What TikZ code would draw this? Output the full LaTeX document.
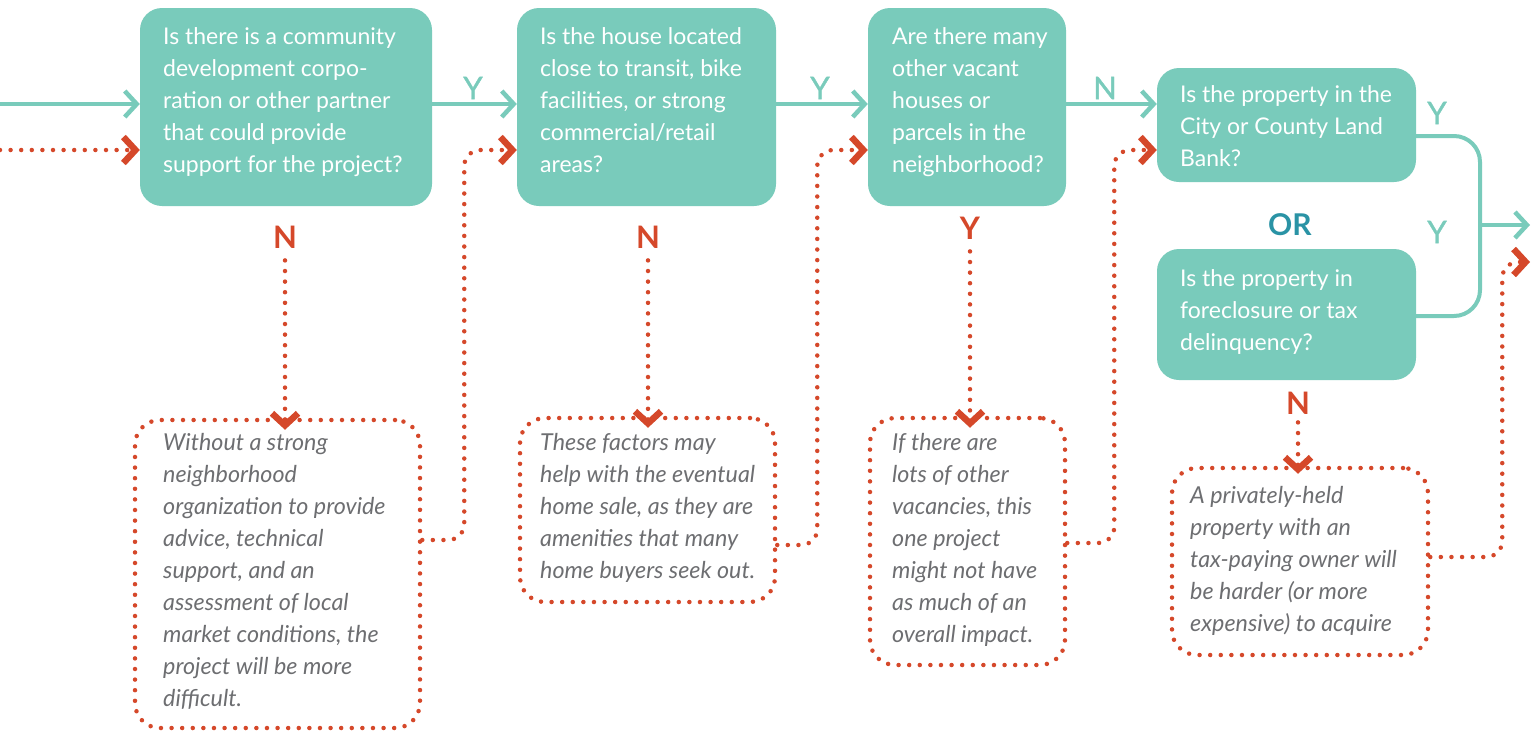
\documentclass[tikz,border=0pt]{standalone}
\usepackage{fontspec}
\setmainfont{Lato}
\usetikzlibrary{arrows.meta}
\definecolor{teal1}{HTML}{79CBBB}
\definecolor{red1}{HTML}{D5482A}
\definecolor{gray1}{HTML}{6D6E71}
\definecolor{ordark}{HTML}{2A93A5}
\begin{document}
\begin{tikzpicture}[x=1pt,y=-1pt,
  qbox/.style={fill=teal1, rounded corners=22pt, inner sep=0pt},
  qtext/.style={text=white, font=\fontsize{23}{32}\selectfont, align=left, anchor=north west, inner sep=0pt},
  dbox/.style={draw=red1, line width=4.5pt, dash pattern=on 0pt off 10.6pt, line cap=round, rounded corners=25pt, inner sep=0pt},
  dtext/.style={text=gray1, font=\fontsize{23.3}{32}\selectfont\itshape, align=left, anchor=north west, inner sep=0pt},
  tline/.style={draw=teal1, line width=4pt},
  tarr/.style={tline, -{Straight Barb[length=12pt,width=26pt,line width=4.5pt]}},
  rdot/.style={draw=red1, line width=4.5pt, dash pattern=on 0pt off 10.6pt, line cap=round},
  rarr/.style={rdot, -{Straight Barb[length=12pt,width=26pt,line width=6.5pt]}},
  tlab/.style={text=teal1, font=\fontsize{31}{31}\selectfont\addfontfeature{FakeBold=1.2}, inner sep=0pt},
  rlab/.style={text=red1, font=\fontsize{31}{31}\selectfont\bfseries, inner sep=0pt}
]
\useasboundingbox (0,0) rectangle (1537,732);

% question boxes
\node[qbox, minimum width=292pt, minimum height=198pt] (b1) at (286,107) {};
\node[qbox, minimum width=259pt, minimum height=198pt] (b2) at (646.5,107) {};
\node[qbox, minimum width=198pt, minimum height=198pt] (b3) at (967,107) {};
\node[qbox, minimum width=259pt, minimum height=114pt] (b4) at (1286.5,125) {};
\node[qbox, minimum width=259pt, minimum height=131pt] (b5) at (1286.5,314.5) {};

\node[qtext] (t1) at (163,27) {Is there is a community\\development corpo-\\ration or other partner\\that could provide\\support for the project?};
\node[qtext] (t2) at (540,27) {Is the house located\\close to transit, bike\\facilities, or strong\\commercial/retail\\areas?};
\node[qtext] (t3) at (892,27) {Are there many\\other vacant\\houses or\\parcels in the\\neighborhood?};
\node[qtext] (t4) at (1180,85) {Is the property in the\\City or County Land\\Bank?};
\node[qtext] (t5) at (1180,269) {Is the property in\\foreclosure or tax\\delinquency?};

% dotted note boxes
\node[dbox, minimum width=285pt, minimum height=308pt] (d1) at (277.5,574) {};
\node[dbox, minimum width=255pt, minimum height=184pt] (d2) at (647.5,510) {};
\node[dbox, minimum width=195pt, minimum height=247pt] (d3) at (967.5,541.5) {};
\node[dbox, minimum width=256pt, minimum height=187pt] (d4) at (1300,561.5) {};

\node[dtext] (e1) at (163,433) {Without a strong\\neighborhood\\organization to provide\\advice, technical\\support, and an\\assessment of local\\market conditions, the\\project will be more\\difficult.};
\node[dtext] (e2) at (540,433) {These factors may\\help with the eventual\\home sale, as they are\\amenities that many\\home buyers seek out.};
\node[dtext] (e3) at (892,433) {If there are\\lots of other\\vacancies, this\\one project\\might not have\\as much of an\\overall impact.};
\node[dtext] (e4) at (1190,486) {A privately-held\\property with an\\tax-paying owner will\\be harder (or more\\expensive) to acquire};

% labels
\node[tlab] (y1) at (473,88) {Y};
\node[tlab] (y2) at (820,88) {Y};
\node[tlab] (n3) at (1105,88) {N};
\node[tlab] (y4) at (1437,113) {Y};
\node[tlab] (y5) at (1437,232) {Y};
\node[text=ordark, font=\fontsize{30}{30}\selectfont\bfseries, inner sep=0pt] (or) at (1290,225) {OR};
\node[rlab] (rn1) at (285,237) {N};
\node[rlab] (rn2) at (648,237) {N};
\node[rlab] (ry3) at (970,228) {Y};
\node[rlab] (rn5) at (1298,403) {N};

% coordinates for free ends
\coordinate (in1) at (0,104);
\coordinate (in2) at (0,150);
\coordinate (jx) at (1480,225);
\coordinate (out1) at (1530,225);
\coordinate (out2) at (1530,262);

% solid yes-path
\draw[tarr] (in1) -- (in1 -| b1.west);
\draw[tarr] ([yshift=3pt]b1.east) -- ([yshift=3pt]b2.west);
\draw[tarr] ([yshift=3pt]b2.east) -- ([yshift=3pt]b3.west);
\draw[tarr] ([yshift=3pt]b3.east) -- ([yshift=3pt]b3.east -| b4.west);
\draw[tline, rounded corners=26pt] ([yshift=-11pt]b4.east) -| (jx) |- ([yshift=-1.5pt]b5.east);
\draw[tarr] (jx) -- (out1);

% dotted paths
\draw[rarr] (in2) -- (in2 -| b1.west);
\draw[rarr] ([yshift=-12pt]rn1.south) -- ([yshift=-12pt]rn1.south |- d1.north);
\draw[rarr] ([yshift=-12pt]rn2.south) -- ([yshift=-12pt]rn2.south |- d2.north);
\draw[rarr] ([yshift=-12pt]ry3.south) -- ([yshift=-12pt]ry3.south |- d3.north);
\draw[rarr] ([yshift=-8pt]rn5.south) -- ([yshift=-8pt]rn5.south |- d4.north);
\draw[rarr, rounded corners=16pt] ([yshift=34pt]d1.east) -- ++(42,0) |- ([yshift=-43pt]b2.west);
\draw[rarr, rounded corners=16pt] ([yshift=-35pt]d2.east) -- ++(40,0) |- ([yshift=-43pt]b3.west);
\draw[rarr, rounded corners=16pt] ([yshift=-1.5pt]d3.east) -- ++(47,0) |- ([yshift=-25pt]b4.west);
\draw[rarr, rounded corners=16pt] ([yshift=4.5pt]d4.east) -- ++(72,0) |- (out2);
\end{tikzpicture}
\end{document}
